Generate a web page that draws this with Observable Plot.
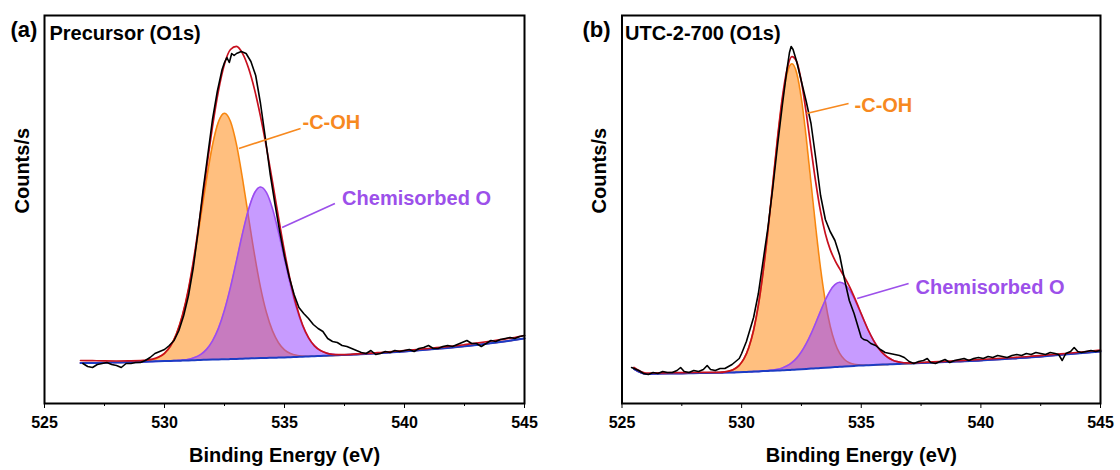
<!DOCTYPE html>
<html><head><meta charset="utf-8">
<script src="https://cdn.jsdelivr.net/npm/d3@7"></script>
<script src="https://cdn.jsdelivr.net/npm/@observablehq/plot@0.6"></script>
<style>
body{margin:0;background:#fff;}
#wrap{display:flex;width:1120px;height:470px;}
svg text{font-weight:bold;}
</style></head><body><div id="wrap"></div>
<script>
// ---------- tick labels ----------
const majorTicks = [525, 530, 535, 540, 545];
const minorTicks = [527.5, 532.5, 537.5, 542.5];
const xTitle = "Binding Energy (eV)";
const yTitle = "Counts/s";
const componentNames = ["-C-OH", "Chemisorbed O"];

// ---------- panel (a): Precursor ----------
const aE = [526.5,527,527.5,528,528.5,
 529,529.25,529.5,529.75,530,530.25,530.5,530.75,531,531.25,531.5,531.75,532,532.25,532.5,532.75,533,533.25,533.5,533.75,534,534.25,534.5,534.75,535,535.25,535.5,535.75,536,536.25,536.5,536.75,537,537.25,537.5,537.75,538,
 538.5,539,539.5,540,540.5,541,541.5,542,542.5,543,543.5,544,544.5,545];
const aBase = [40.5,40.5,40.8,41,41.2,
 41.5,41.8,42,42.3,42.5,42.6,42.8,42.9,43,43.3,43.5,43.8,44,44.1,44.3,44.4,44.5,44.8,45,45.3,45.5,45.6,45.8,45.9,46,46.3,46.5,46.8,47,47.3,47.5,47.8,48,48.3,48.5,48.8,49,
 49.7,50.5,51.2,52,53,54,55,56,57.2,58.5,60,61.5,63.2,65];
const aOrange = [40.5,40.5,40.8,41,41.2,
 41.8,42.5,43.7,46.0,50.2,57.5,69.6,88.0,113.7,146.9,185.0,223.9,258.3,281.7,290.3,282.0,258.8,224.9,186.5,148.9,116.2,90.7,72.6,60.8,53.7,50.0,48.2,47.5,47.3,47.3,47.5,47.8,48,48.3,48.5,48.8,49,
 49.7,50.5,51.2,52,53,54,55,56,57.2,58.5,60,61.5,63.2,65];
const aPurple = [40.5,40.5,40.8,41,41.2,
 41.5,41.8,42,42.3,42.5,42.6,43.0,43.4,44.2,45.9,48.9,54.1,62.6,75.4,93.5,116.4,142.8,170.0,193.9,210.5,216.5,210.8,194.7,171.1,144.3,118.3,95.7,78.1,65.6,57.6,52.9,50.4,49.2,48.8,48.7,48.8,49,
 49.7,50.5,51.2,52,53,54,55,56,57.2,58.5,60,61.5,63.2,65];
const aFit = [43,42.8,42.6,42.5,42.6,
 42.8,43.3,44.4,46.4,50.2,57.5,69.8,88.5,114.9,149.5,190.4,234.2,276.9,313.0,339.5,354.0,357.1,350.1,335.4,314.1,287.2,255.9,221.5,186.0,152.0,122.0,97.4,78.8,65.9,57.6,52.9,50.4,49.2,48.8,48.9,49.2,49.6,
 50.1,51,52,53,54,55,56.2,57.4,58.8,60.3,62,63.8,65.7,68];
const aRawE = [526.6,526.8,527.0,527.2,527.4,527.6,527.8,528.0,528.2,528.4,528.6,528.8,529.0,529.2,529.4,529.6,529.8,530.0,530.2,530.4,530.6,530.8,531.0,531.2,531.4,531.6,531.8,532.0,532.2,532.4,
 532.5,532.6,532.7,532.8,532.9,533.0,
 533.2,533.4,533.6,533.8,534.0,534.2,534.4,534.6,534.8,535.0,535.2,535.4,535.6,535.8,536.0,536.2,536.4,536.6,536.8,537.0,537.2,537.4,537.6,537.8,538.0,538.2,538.4,538.6,538.8,539.0,539.2,539.4,539.6,539.8,540.0,540.2,540.4,540.6,540.8,541.0,541.2,541.4,541.6,541.8,542.0,542.2,542.4,542.6,542.8,543.0,543.2,543.4,543.6,543.8,544.0,544.2,544.4,544.6,544.8,545.0];
const aRawV = [40,37,36,39,40,41,39,38,36,40,40,41,41,43,46,50,52,54,58,63,73,88,108,136,172,212,248,284,312,334,
 341,346,341,350,348,350,
 352,350,342,328,300,266,230,200,172,147,126,109,96,90,85,79,75,72,65,62,61,58,57,55,53,51,50,53,49,50,52,51,53,52,53,54,52,55,56,58,55,55,57,58,57,59,61,63,60,60,57,60,63,62,64,65,66,65,67,68];
const aLabelX = [535.75, 537.4];
const aLabelY = [281, 205];
const aLeadX1 = [533.1, 534.9], aLeadY1 = [255, 176];
const aLeadX2 = [535.67, 537.1], aLeadY2 = [275, 200];

// ---------- panel (b): UTC-2-700 ----------
const bE = [525.5,526,526.5,527,527.5,528,528.5,
 529.1,529.3,529.5,529.7,529.9,530.1,530.3,530.5,530.7,530.9,531.1,531.3,531.5,531.7,531.9,532.1,532.3,532.5,532.7,532.9,533.1,533.3,533.5,533.7,533.9,534.1,534.3,534.5,534.7,534.9,535.1,535.3,535.5,535.7,535.9,536.1,536.3,536.5,536.7,536.9,537.1,
 537.5,538,538.5,539,540,541,542,543,544,545];
const bBase = [34.5,29.5,29.8,30,30.1,30.3,30.5,
 30.8,30.9,31.0,31.1,31.2,31.4,31.7,31.9,32.1,32.4,32.6,32.8,33.0,33.2,33.4,33.7,34.0,34.3,34.6,34.9,35.2,35.5,35.8,36.1,36.4,36.7,37.0,37.3,37.6,37.9,38.1,38.3,38.5,38.7,38.9,39.1,39.3,39.5,39.7,39.9,40.1,
 40.5,41,41.5,42,43,44.5,46,48,50,52];
const bOrange = [34.5,29.5,29.8,30,30.1,30.3,30.5,
 31.1,31.6,32.6,34.5,38.2,44.8,56.1,73.3,98.3,131.8,172.7,218.4,264.0,303.2,329.9,339.7,330.5,304.3,265.6,220.5,175.3,134.9,102.0,77.5,60.8,50.1,44.0,40.7,39.2,38.6,38.4,38.3,38.5,38.7,38.9,39.1,39.3,39.5,39.7,39.9,40.1,
 40.5,41,41.5,42,43,44.5,46,48,50,52];
const bPurple = [34.5,29.5,29.8,30,30.1,30.3,30.5,
 30.8,30.9,31.0,31.1,31.2,31.4,31.7,31.9,32.1,32.6,32.9,33.5,34.3,35.6,37.7,40.9,45.4,51.7,59.8,69.6,80.8,92.4,103.5,112.7,118.8,121.2,119.4,113.9,105.3,94.8,83.7,73.0,63.7,56.1,50.3,46.3,43.6,41.9,41.0,40.6,40.4,
 40.5,41,41.5,42,43,44.5,46,48,50,52];
const bFit = [36,30.5,30.6,30.8,30.9,31.0,31.1,
 31.1,31.6,32.6,34.5,38.2,44.8,56.1,73.3,98.3,131.9,173.0,219.1,265.3,305.6,334.2,346.9,341.9,321.7,290.8,255.2,220.9,191.8,169.7,154.1,143.2,134.6,126.4,117.3,106.9,95.5,84.0,73.0,63.7,56.1,50.3,46.3,43.6,41.9,41.0,40.6,40.4,
 41,41.6,42.2,42.8,44,45.5,47,49,51,53.5];
const bRawE = [525.4,525.5,525.7,525.9,526.1,526.3,526.5,526.7,526.9,527.1,527.3,527.45,527.6,527.8,528.0,528.2,528.4,528.56,528.7,528.9,529.1,529.3,529.45,529.6,529.75,529.9,530.0,530.1,530.2,530.3,530.4,530.5,530.7,530.9,531.1,531.3,531.5,531.7,531.9,532.0,532.07,532.15,532.3,532.5,532.7,532.9,533.1,533.3,533.5,533.7,533.9,534.1,534.3,534.5,534.7,534.9,535.0,535.1,535.25,535.4,535.6,535.8,536.0,536.2,536.4,536.6,536.8,536.9,537.0,537.2,537.4,537.6,537.76,537.9,538.1,538.3,538.5,538.7,538.9,539.1,539.3,539.5,539.7,539.9,540.1,540.3,540.5,540.7,540.9,541.1,541.3,541.5,541.7,541.9,542.1,542.3,542.5,542.7,542.9,543.1,543.25,543.4,543.55,543.75,543.9,544.05,544.2,544.4,544.6,544.8,545.0];
const bRawV = [36,35,33,30,29,31,30,32,31,31,33,36,32,31,33,32,34,38,34,33,35,35,37,39,42,45,50,56,62,70,78,86,110,143,176,215,258,298,335,351,357,354,342,322,302,280,245,208,184,172,163,148,124,103,90,74,66,64,63,60,58,54,51,50,49,48,46,44,42,40,42,43,45,41,40,42,44,41,43,44,45,43,45,46,45,47,46,48,47,46,48,49,48,50,49,51,50,49,51,50,49,43,50,52,56,52,51,52,53,52,53];
const bLabelX = [534.72, 537.27];
const bLabelY = [298, 116];
const bLeadX1 = [532.71, 534.83], bLeadY1 = [290, 105];
const bLeadX2 = [534.47, 536.98], bLeadY2 = [300, 120];

const FONT = "Arial, 'Liberation Sans', sans-serif";
const ORANGE = "#FF7F00", ORANGE_LINE = "#F7860F", ORANGE_TEXT = "#F7891F";
const PURPLE = "#8F37FF", PURPLE_LINE = "#9B4CF0", PURPLE_TEXT = "#9C50EA";

function panel(c) {
  const fit = c.E.map((e, i) => ({E: e, base: c.base[i], orange: c.orange[i], purple: c.purple[i], fit: c.fit[i]}));
  const raw = c.rawE.map((e, i) => ({E: e, v: c.rawV[i]}));
  const labels = componentNames.map((n, i) => ({n, x: c.lx[i], y: c.ly[i], x1: c.x1[i], y1: c.y1[i], x2: c.x2[i], y2: c.y2[i], col: i === 0 ? ORANGE_TEXT : PURPLE_TEXT}));
  const cv = "monotone-x";
  return Plot.plot({
    width: 560, height: 470,
    marginLeft: c.ml, marginRight: c.mr, marginTop: 15, marginBottom: 67,
    x: {domain: [525, 545]},
    y: {domain: [0, 388], axis: null},
    style: {fontFamily: FONT, background: "white", color: "black", overflow: "visible"},
    marks: [
      Plot.areaY(fit, {x: "E", y1: "base", y2: "orange", fill: ORANGE, fillOpacity: 0.5, curve: cv}),
      Plot.lineY(fit, {x: "E", y: "orange", stroke: ORANGE_LINE, strokeWidth: 1.6, curve: cv}),
      Plot.areaY(fit, {x: "E", y1: "base", y2: "purple", fill: PURPLE, fillOpacity: 0.5, curve: cv}),
      Plot.lineY(fit, {x: "E", y: "purple", stroke: PURPLE_LINE, strokeWidth: 1.6, curve: cv}),
      Plot.lineY(fit, {x: "E", y: "base", stroke: "#1C3CC4", strokeWidth: 2, curve: cv}),
      Plot.lineY(fit, {x: "E", y: "fit", stroke: "#C8101E", strokeWidth: 1.7, curve: cv}),
      Plot.lineY(raw, {x: "E", y: "v", stroke: "#000", strokeWidth: 1.6}),
      Plot.link(labels, {x1: "x1", y1: "y1", x2: "x2", y2: "y2", stroke: "col", strokeWidth: 1.7}),
      Plot.text(labels, {x: "x", y: "y", text: "n", fill: "col", textAnchor: "start", lineAnchor: "middle", fontSize: 20, fontWeight: "bold", fontFamily: FONT}),
      Plot.frame({stroke: "#000", strokeWidth: 2}),
      Plot.axisX({ticks: majorTicks, tickSize: 5, tickPadding: 8, fontSize: 16, fontWeight: "bold", fontFamily: FONT, label: null, tickFormat: d => String(d)}),
      Plot.axisX({ticks: minorTicks, tickSize: 3, text: null, label: null}),
      Plot.text([xTitle], {frameAnchor: "bottom", dy: 52, lineAnchor: "middle", fontSize: 20, fontWeight: "bold", fontFamily: FONT}),
      Plot.text([yTitle], {frameAnchor: "left", dx: -22, dy: 4, rotate: -90, lineAnchor: "middle", fontSize: 20, fontWeight: "bold", fontFamily: FONT}),
      Plot.text([c.tag], {frameAnchor: "top-left", dx: c.tagDx, dy: 14, textAnchor: "start", lineAnchor: "middle", fontSize: 22, fontWeight: "bold", fontFamily: FONT}),
      Plot.text([c.title], {frameAnchor: "top-left", dx: c.titleDx, dy: 18, textAnchor: "start", lineAnchor: "middle", fontSize: 20, fontWeight: "bold", fontFamily: FONT})
    ]
  });
}

const wrap = document.getElementById("wrap");
wrap.appendChild(panel({E: aE, base: aBase, orange: aOrange, purple: aPurple, fit: aFit, rawE: aRawE, rawV: aRawV,
  lx: aLabelX, ly: aLabelY, x1: aLeadX1, y1: aLeadY1, x2: aLeadX2, y2: aLeadY2,
  ml: 44, mr: 36, tag: "(a)", tagDx: -34, title: "Precursor (O1s)", titleDx: 5}));
wrap.appendChild(panel({E: bE, base: bBase, orange: bOrange, purple: bPurple, fit: bFit, rawE: bRawE, rawV: bRawV,
  lx: bLabelX, ly: bLabelY, x1: bLeadX1, y1: bLeadY1, x2: bLeadX2, y2: bLeadY2,
  ml: 61.5, mr: 20, tag: "(b)", tagDx: -39.5, title: "UTC-2-700 (O1s)", titleDx: 3}));
</script></body></html>
